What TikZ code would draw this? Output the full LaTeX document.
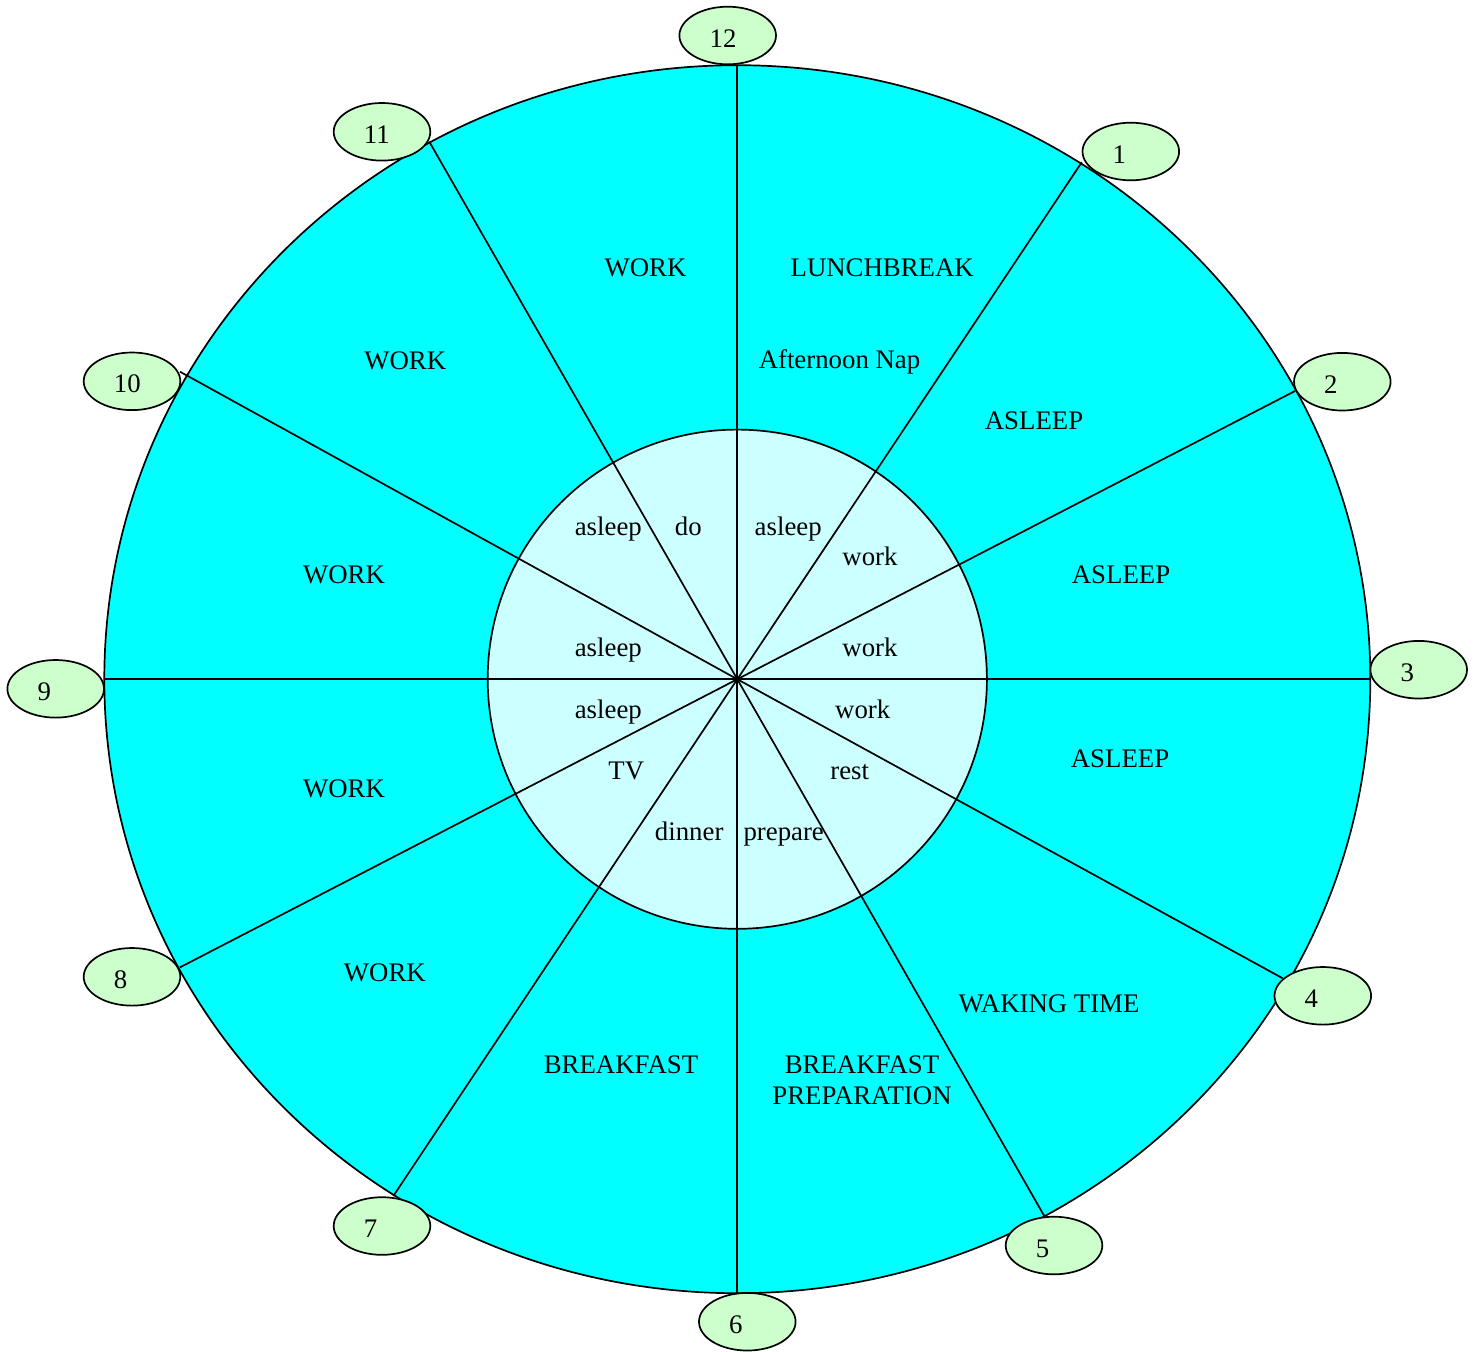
\documentclass[tikz,border=0pt]{standalone}
\usepackage{fontspec}
\setmainfont{Liberation Serif}
\usetikzlibrary{shapes.geometric}
\definecolor{outerfill}{RGB}{0,255,255}
\definecolor{innerfill}{RGB}{204,255,255}
\definecolor{numfill}{RGB}{204,255,204}
\begin{document}
\begin{tikzpicture}[x=0.5pt,y=-0.5pt,
  txt/.style={font=\fontsize{13.4pt}{15.25pt}\selectfont, inner sep=0pt},
  lbl/.style={txt, anchor=base},
  numell/.style={ellipse, draw, line width=0.85pt, fill=numfill, minimum width=48.3pt, minimum height=28.8pt, inner sep=0pt},
  spoke/.style={line width=0.85pt},
  ring/.style={draw, line width=0.85pt}]
\path[use as bounding box] (0,0) rectangle (1476,1351);
\coordinate (O) at (737.3,679.2);
% outer and inner discs
\path[ring, fill=outerfill] (O) ellipse [x radius=316.5pt, y radius=307pt];
\path[ring, fill=innerfill] (O) circle [radius=124.8pt];
% spoke end points
\foreach \n/\x/\y in {12/737.3/64.5, 1/1081.7/162.3, 2/1295/391, 3/1370/679.2,
  4/1282.7/978.3, 5/1044.3/1216, 6/737.3/1293.3, 7/393.3/1196,
  8/180/967.3, 9/104/679.2, 10/180/371.7, 11/429.3/141.7}{
  \coordinate (e\n) at (\x,\y);
  \draw[spoke] (O) -- (e\n);
}
% hour ellipses
\foreach \n/\x/\y in {12/727.7/35.5, 1/1130.8/151.5, 2/1342.3/381.7, 3/1418.7/669.7,
  4/1322.8/995.8, 5/1054/1245.5, 6/747.3/1321.7, 7/382/1226,
  8/132/976.8, 9/55.7/688.8, 10/132/381.3, 11/382/131.8}{
  \node[numell] (n\n) at (\x,\y) {};
  \node[txt, anchor=base west] (t\n) at (\x-18.5,\y+11.5) {\n};
}
% inner labels
\node[lbl] (i1) at (608.3,535) {asleep};
\node[lbl] (i2) at (688.3,535) {do};
\node[lbl] (i3) at (788.2,535) {asleep};
\node[lbl] (i4) at (870,565.7) {work};
\node[lbl] (i5) at (870,656.7) {work};
\node[lbl] (i6) at (608.3,656.7) {asleep};
\node[lbl] (i7) at (608.3,718.3) {asleep};
\node[lbl] (i8) at (862.7,718.3) {work};
\node[lbl] (i9) at (626.3,779.3) {TV};
\node[lbl] (i10) at (849.7,779.3) {rest};
\node[lbl] (i11) at (689.2,840.7) {dinner};
\node[lbl] (i12) at (783.7,840.7) {prepare};
% outer labels
\node[lbl] (o1) at (645.5,276.7) {WORK};
\node[lbl] (o2) at (882.2,276.7) {LUNCHBREAK};
\node[lbl] (o3) at (839.5,368.3) {Afternoon Nap};
\node[lbl] (o4) at (1034,429.5) {ASLEEP};
\node[lbl] (o5) at (1121,583.5) {ASLEEP};
\node[lbl] (o6) at (1120,767.5) {ASLEEP};
\node[lbl] (o7) at (1049,1012) {WAKING TIME};
\node[lbl] (o8) at (621,1073.5) {BREAKFAST};
\node[txt, align=center] (o9) at (862,1080.1) {BREAKFAST\\PREPARATION};
\node[lbl] (o10) at (384.8,981.7) {WORK};
\node[lbl] (o11) at (344,797.5) {WORK};
\node[lbl] (o12) at (344,583.5) {WORK};
\node[lbl] (o13) at (405.2,369) {WORK};
\end{tikzpicture}
\end{document}
